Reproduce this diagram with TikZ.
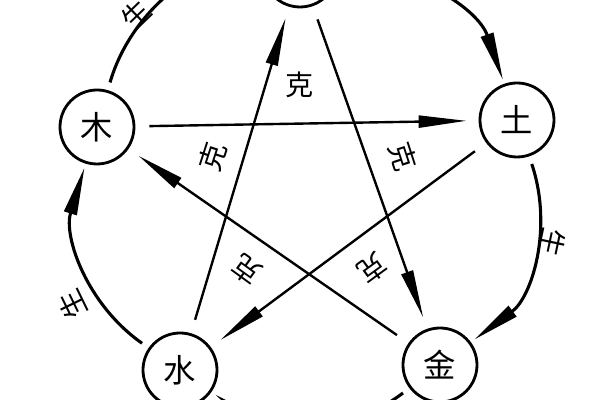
\documentclass[tikz,border=0pt]{standalone}
\usepackage{fontspec}
\newfontfamily\cjk{Noto Sans CJK SC}
\usetikzlibrary{arrows.meta}

\tikzset{
  elem/.style={circle,draw,line width=2pt,minimum size=1.85cm,inner sep=0pt,
    font=\cjk\fontsize{23}{23}\selectfont},
  lab/.style={inner sep=0pt,font=\cjk\fontsize{20}{20}\selectfont},
  ke/.style={draw,line width=1.7pt,-{Triangle[length=12mm,width=3mm]},
    shorten <=0.35cm,shorten >=0.3cm},
  sheng/.style={draw,line width=2.2pt,-{Triangle[length=12mm,width=3.2mm]},
    bend left=36,shorten <=0.2cm,shorten >=0.1cm}
}

\begin{document}
\begin{tikzpicture}

      \useasboundingbox (0,0) rectangle (15,10);
      \clip (0,0) rectangle (15,10);

      \begin{scope}[every node/.style={elem}]
        \node (huo)  at (7.5,10.75)   {火};
        \node (tu)   at (12.925,7.0)  {土};
        \node (jin)  at (11.0,0.875)  {金};
        \node (shui) at (4.5,0.75)    {水};
        \node (mu)   at (2.425,6.825) {木};
      \end{scope}

      \begin{scope}[every node/.style={lab}]
        \node[rotate=0]    (ke1) at (7.5,7.875)   {克};
        \node[rotate=-72]  (ke2) at (10.075,6.075) {克};
        \node[rotate=-144] (ke3) at (9.3,3.3)     {克};
        \node[rotate=144]  (ke4) at (6.175,3.25)  {克};
        \node[rotate=72]   (ke5) at (5.325,6.075) {克};
        \node[rotate=44]   (sh1) at (3.4,9.62)    {生};
        \node[rotate=-102] (sh2) at (13.8,3.925)  {生};
        \node[rotate=116]  (sh3) at (1.8,2.375)   {生};
      \end{scope}

      \begin{scope}[every edge/.style={ke}]
        \path (mu)   edge (tu);
        \path (tu)   edge (shui);
        \path (shui) edge (huo);
        \path (huo)  edge (jin);
        \path (jin)  edge (mu);
      \end{scope}

      \begin{scope}[every edge/.style={sheng}]
        \path (mu)   edge (huo);
        \path (huo)  edge (tu);
        \path (tu)   edge (jin);
        \path (jin)  edge (shui);
        \path (shui) edge (mu);
      \end{scope}

    \end{tikzpicture}
\end{document}
